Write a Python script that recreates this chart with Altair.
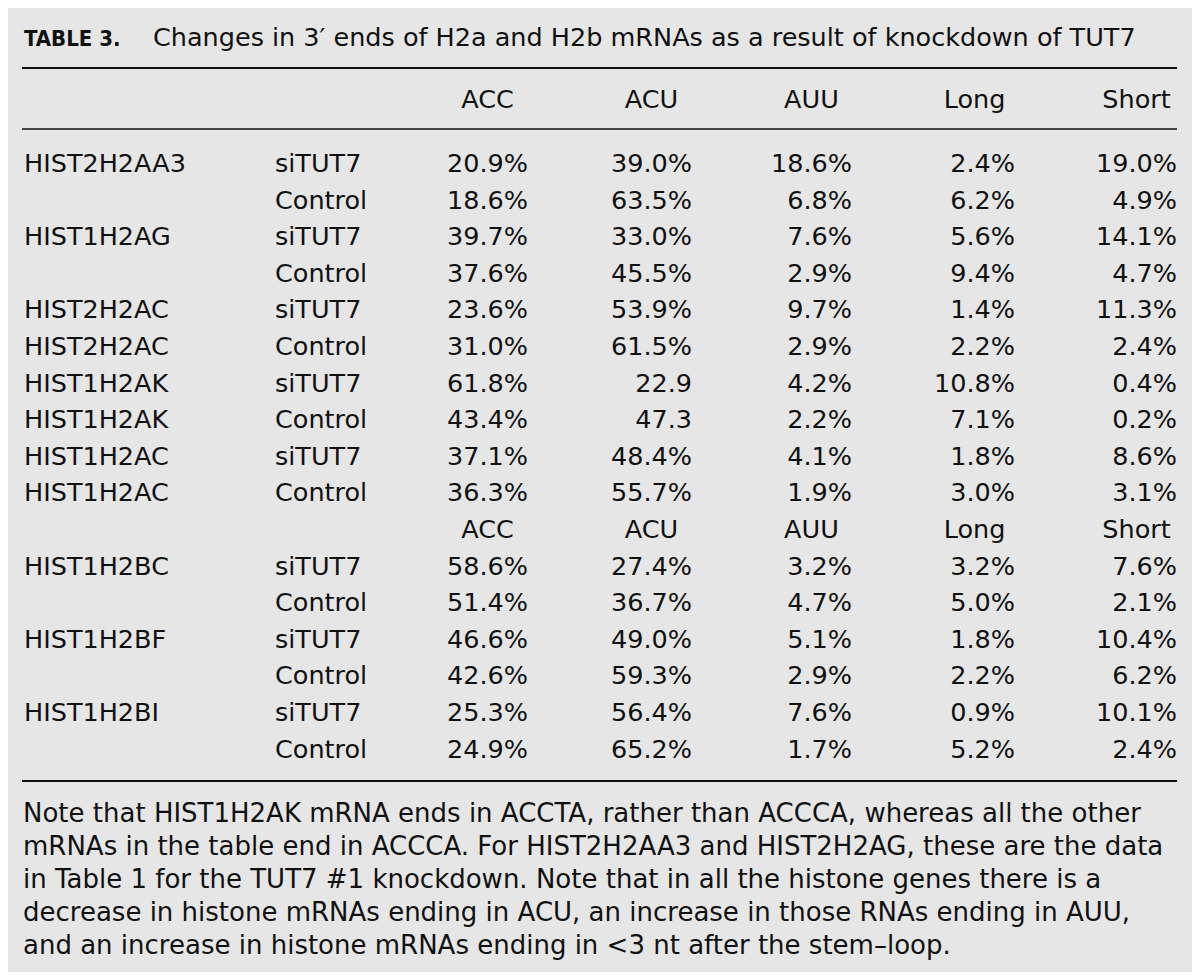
import altair as alt
import pandas as pd

# ---------------- data ----------------
title_bold = "TABLE 3."
title_rest = "Changes in 3\u2032 ends of H2a and H2b mRNAs as a result of knockdown of TUT7"
columns = ["ACC", "ACU", "AUU", "Long", "Short"]

h2a_genes = ["HIST2H2AA3", "", "HIST1H2AG", "", "HIST2H2AC", "HIST2H2AC",
             "HIST1H2AK", "HIST1H2AK", "HIST1H2AC", "HIST1H2AC"]
h2a_cond = ["siTUT7", "Control", "siTUT7", "Control", "siTUT7", "Control",
            "siTUT7", "Control", "siTUT7", "Control"]
acc_a = ["20.9%", "18.6%", "39.7%", "37.6%", "23.6%", "31.0%", "61.8%", "43.4%", "37.1%", "36.3%"]
acu_a = ["39.0%", "63.5%", "33.0%", "45.5%", "53.9%", "61.5%", "22.9", "47.3", "48.4%", "55.7%"]
auu_a = ["18.6%", "6.8%", "7.6%", "2.9%", "9.7%", "2.9%", "4.2%", "2.2%", "4.1%", "1.9%"]
long_a = ["2.4%", "6.2%", "5.6%", "9.4%", "1.4%", "2.2%", "10.8%", "7.1%", "1.8%", "3.0%"]
short_a = ["19.0%", "4.9%", "14.1%", "4.7%", "11.3%", "2.4%", "0.4%", "0.2%", "8.6%", "3.1%"]

h2b_genes = ["HIST1H2BC", "", "HIST1H2BF", "", "HIST1H2BI", ""]
h2b_cond = ["siTUT7", "Control", "siTUT7", "Control", "siTUT7", "Control"]
acc_b = ["58.6%", "51.4%", "46.6%", "42.6%", "25.3%", "24.9%"]
acu_b = ["27.4%", "36.7%", "49.0%", "59.3%", "56.4%", "65.2%"]
auu_b = ["3.2%", "4.7%", "5.1%", "2.9%", "7.6%", "1.7%"]
long_b = ["3.2%", "5.0%", "1.8%", "2.2%", "0.9%", "5.2%"]
short_b = ["7.6%", "2.1%", "10.4%", "6.2%", "10.1%", "2.4%"]

note_lines = [
    "Note that HIST1H2AK mRNA ends in ACCTA, rather than ACCCA, whereas all the other",
    "mRNAs in the table end in ACCCA. For HIST2H2AA3 and HIST2H2AG, these are the data",
    "in Table 1 for the TUT7 #1 knockdown. Note that in all the histone genes there is a",
    "decrease in histone mRNAs ending in ACU, an increase in those RNAs ending in AUU,",
    "and an increase in histone mRNAs ending in <3 nt after the stem\u2013loop.",
]

# ---------------- layout ----------------
W, H = 1184, 964
FONT = "DejaVu Sans"
FS = 25.5
NOTE_FS = 26
BG = "#e6e6e6"
INK = "#111111"
LEFT = 15
RIGHT = 1169
GENE_X = 16
COND_X = 267
COL_RIGHT = [520, 684, 844, 1007, 1169]
HEAD_SHIFT = 40.5
TITLE_Y = 38
HEAD_Y = 100
ROW0_Y = 164
ROW_STEP = 36.6
NOTE_Y = 814
NOTE_STEP = 33


def row_y(k):
    return ROW0_Y + ROW_STEP * k


left_rows, right_rows, head_rows = [], [], []

for j, c in enumerate(columns):
    head_rows.append({"t": c, "x": COL_RIGHT[j] - HEAD_SHIFT, "y": HEAD_Y})

blocks = [
    (0, h2a_genes, h2a_cond, [acc_a, acu_a, auu_a, long_a, short_a]),
    (11, h2b_genes, h2b_cond, [acc_b, acu_b, auu_b, long_b, short_b]),
]
for start, genes, conds, cols in blocks:
    for i in range(len(genes)):
        y = row_y(start + i)
        if genes[i]:
            left_rows.append({"t": genes[i], "x": GENE_X, "y": y})
        left_rows.append({"t": conds[i], "x": COND_X, "y": y})
        for j in range(len(columns)):
            right_rows.append({"t": cols[j][i], "x": COL_RIGHT[j], "y": y})

for j, c in enumerate(columns):
    head_rows.append({"t": c, "x": COL_RIGHT[j] - HEAD_SHIFT, "y": row_y(10)})

note_rows = [{"t": s, "x": LEFT, "y": NOTE_Y + NOTE_STEP * i} for i, s in enumerate(note_lines)]
rules = pd.DataFrame([
    {"x": LEFT - 1, "x2": RIGHT, "y": 60, "w": 2.2},
    {"x": LEFT - 1, "x2": RIGHT, "y": 121, "w": 1.4},
    {"x": LEFT - 1, "x2": RIGHT, "y": 773, "w": 2.2},
])

xs = alt.Scale(domain=[0, W], range=[0, W], nice=False, zero=False)
ys = alt.Scale(domain=[0, H], range=[0, H], nice=False, zero=False)


def X(f="x"):
    return alt.X(f + ":Q", scale=xs, axis=None)


def Y(f="y"):
    return alt.Y(f + ":Q", scale=ys, axis=None)


def text_layer(rows, align, size=FS, **kw):
    return alt.Chart(pd.DataFrame(rows)).mark_text(
        align=align, baseline="alphabetic", font=FONT, fontSize=size, color=INK, **kw
    ).encode(x=X(), y=Y(), text="t:N")


rule_layer = alt.Chart(rules).mark_rule(color=INK).encode(
    x=X(), x2="x2:Q", y=Y(), strokeWidth=alt.StrokeWidth("w:Q", scale=None)
)

title_b = alt.Chart(pd.DataFrame([{"t": title_bold, "x": GENE_X, "y": TITLE_Y}])).mark_text(
    align="left", baseline="alphabetic",
    font='"DejaVu Sans Condensed", "Liberation Sans", "DejaVu Sans", sans-serif',
    fontWeight="bold", fontSize=22, color=INK
).encode(x=X(), y=Y(), text="t:N")
title_r = text_layer([{"t": title_rest, "x": 145, "y": TITLE_Y}], "left", size=25.5)

chart = alt.layer(
    rule_layer,
    title_b,
    title_r,
    text_layer(head_rows, "center"),
    text_layer(left_rows, "left"),
    text_layer(right_rows, "right"),
    text_layer(note_rows, "left", size=NOTE_FS),
).properties(
    width=W, height=H, background=BG, padding=0,
    autosize=alt.AutoSizeParams(type="none"),
).configure_view(stroke=None)

chart.save("out.html", embed_options={"renderer": "svg", "actions": False})
